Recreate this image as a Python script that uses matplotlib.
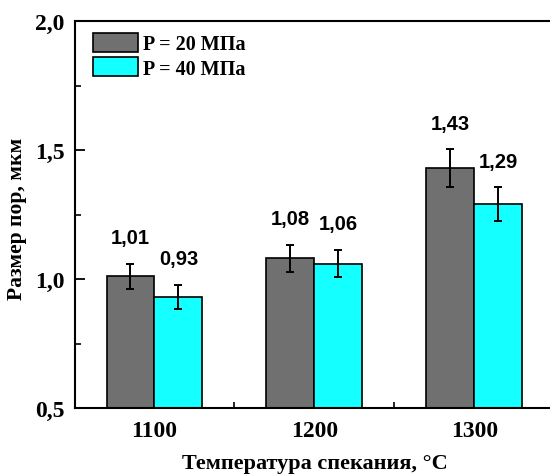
import numpy as np
import matplotlib
matplotlib.use('Agg')
import matplotlib.pyplot as plt
from matplotlib.ticker import FixedLocator

# данные
temps = ["1100", "1200", "1300"]
p20 = [1.01, 1.08, 1.43]
p20_err = [0.05, 0.052, 0.072]
p40 = [0.93, 1.06, 1.29]
p40_err = [0.047, 0.052, 0.065]
y_ticks = [0.5, 1.0, 1.5, 2.0]

serif = ['Liberation Serif', 'DejaVu Serif']
sans = ['Liberation Sans', 'DejaVu Sans']

fig = plt.figure(figsize=(5.5, 4.77), dpi=100)
ax = fig.add_axes([74.5 / 550, 68 / 477, 480 / 550, 387 / 477])

x = np.arange(len(temps))
w = 0.3
ax.bar(x - w / 2, p20, w, yerr=p20_err, color='#707070', edgecolor='black',
       linewidth=1.2, capsize=3, error_kw=dict(elinewidth=1.4, capthick=1.4),
       label='P = 20 МПа')
ax.bar(x + w / 2, p40, w, yerr=p40_err, color='#14ffff', edgecolor='black',
       linewidth=1.2, capsize=3, error_kw=dict(elinewidth=1.4, capthick=1.4),
       label='P = 40 МПа')

for xs, vals, errs in [(x - w / 2, p20, p20_err), (x + w / 2, p40, p40_err)]:
    for xi, v, e in zip(xs, vals, errs):
        ax.annotate(f'{v:.2f}'.replace('.', ','), (xi, v + e), xytext=(0, 19),
                    textcoords='offset points', ha='center', va='center',
                    fontsize=14.5, fontweight='bold', family=sans)

ax.set_xlim(-0.5, 2.5)
ax.set_ylim(0.5, 2.0)
ax.set_xticks(x)
ax.set_xticklabels(temps)
ax.xaxis.set_minor_locator(FixedLocator([0.5, 1.5]))
ax.tick_params(axis='x', which='major', length=0, pad=9)
ax.tick_params(axis='x', which='minor', direction='in', length=4, width=1.2)
ax.set_yticks(y_ticks)
ax.set_yticklabels([f'{t:.1f}'.replace('.', ',') for t in y_ticks])
ax.yaxis.set_minor_locator(FixedLocator([0.75, 1.25, 1.75]))
ax.tick_params(axis='y', which='major', direction='in', length=7, width=1.3, pad=7)
ax.tick_params(axis='y', which='minor', direction='in', length=4, width=1.2)
for lab in ax.get_xticklabels() + ax.get_yticklabels():
    lab.set_fontfamily(serif)
    lab.set_fontweight('bold')
    lab.set_fontsize(17)
for s in ax.spines.values():
    s.set_linewidth(1.5)

ax.set_xlabel('Температура спекания, °C', fontsize=16, fontweight='bold', family=serif)
ax.xaxis.set_label_coords(0.5, -0.115)
ax.set_ylabel('Размер пор, мкм', fontsize=15.5, fontweight='bold', family=serif)
ax.yaxis.set_label_coords(-0.1, 0.49)

ax.legend(loc='upper left', bbox_to_anchor=(0.005, 1.01), frameon=False,
          prop=dict(family=serif, weight='bold', size=14.5),
          handlelength=2.25, handleheight=1.05, labelspacing=0.15, handletextpad=0.25,
          borderpad=0.3)

plt.savefig('out.png', dpi=100)
